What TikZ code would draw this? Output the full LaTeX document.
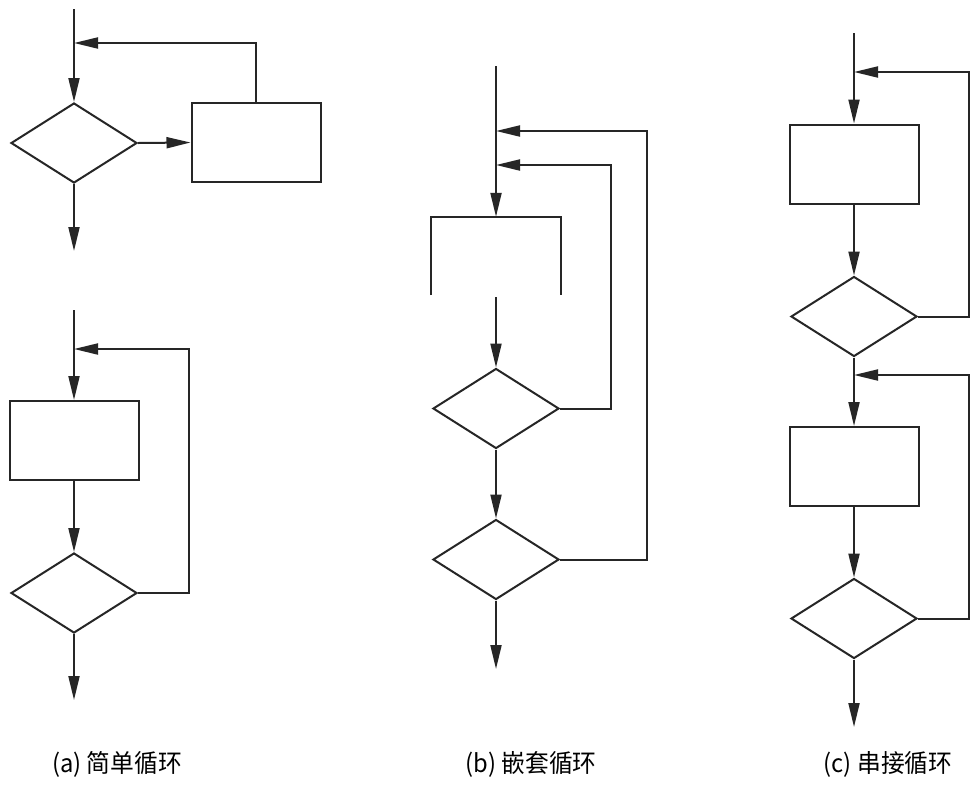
\documentclass[tikz,border=0pt]{standalone}
\usepackage{fontspec}
\newfontfamily\cjk{Noto Sans CJK SC}
\usetikzlibrary{shapes.geometric,arrows.meta}
\begin{document}
\begin{tikzpicture}[x=1pt,y=-1pt,
  ln/.style={line width=2pt,draw=black!85},
  arr/.style={ln,-{Triangle[length=24pt,width=11pt]}},
  dia/.style={diamond,ln,inner sep=0pt,minimum width=126pt,minimum height=80pt},
  box/.style={rectangle,ln,inner sep=0pt,minimum width=129pt,minimum height=79pt},
  lab/.style={font=\cjk\fontsize{25pt}{29pt}\selectfont,inner sep=0pt,xscale=0.95}]
\useasboundingbox[fill=white] (0,0) rectangle (979,785);
% (a) upper
\node[dia] (a1d) at (74,143) {};
\node[box] (a1b) at (256,142.5) {};
\coordinate (a1s) at (74,9);
\coordinate (a1j) at (74,43);
\coordinate (a1e) at (74,251);
\draw[ln] (a1s) -- (a1j);
\draw[arr] (a1j) -- (a1d.north);
\draw[arr] (a1d.east) -- (a1b.west);
\draw[arr] (a1b.north) |- (a1j);
\draw[arr] (a1d.south) -- (a1e);
% (a) lower
\node[box] (a2b) at (74,440.5) {};
\node[dia] (a2d) at (74,593) {};
\coordinate (a2s) at (74,310);
\coordinate (a2j) at (74,349);
\coordinate (a2c) at (189,349);
\coordinate (a2e) at (74,700);
\draw[ln] (a2s) -- (a2j);
\draw[arr] (a2j) -- (a2b.north);
\draw[arr] (a2b.south) -- (a2d.north);
\draw[arr] (a2d.east) -| (a2c) -- (a2j);
\draw[arr] (a2d.south) -- (a2e);
% (b)
\coordinate (bs) at (496,66);
\coordinate (bj1) at (496,131);
\coordinate (bj2) at (496,165);
\coordinate (bc1) at (647,131);
\coordinate (bc2) at (611,165);
\node[minimum width=129pt,minimum height=78pt,inner sep=0pt] (bb) at (496,256) {};
\draw[ln] (bb.south west) -- (bb.north west) -- (bb.north east) -- (bb.south east);
\node[dia] (bd1) at (496,408.5) {};
\node[dia] (bd2) at (496,559.5) {};
\coordinate (be) at (496,669);
\draw[arr] (bs) -- (bb.north);
\draw[arr] (bb.south) ++(0,2) -- (bd1.north);
\draw[arr] (bd1.east) -| (bc2) -- (bj2);
\draw[arr] (bd2.east) -| (bc1) -- (bj1);
\draw[arr] (bd1.south) -- (bd2.north);
\draw[arr] (bd2.south) -- (be);
% (c)
\coordinate (cs) at (854,33);
\coordinate (cj1) at (854,72);
\coordinate (cc1) at (969,72);
\node[box] (cb1) at (854,164) {};
\node[dia] (cd1) at (854,316.5) {};
\coordinate (cj2) at (854,375);
\coordinate (cc2) at (969,375);
\node[box] (cb2) at (854,466.5) {};
\node[dia] (cd2) at (854,618.5) {};
\coordinate (ce) at (854,727);
\draw[ln] (cs) -- (cj1);
\draw[arr] (cj1) -- (cb1.north);
\draw[arr] (cb1.south) -- (cd1.north);
\draw[arr] (cd1.east) -| (cc1) -- (cj1);
\draw[ln] (cd1.south) -- (cj2);
\draw[arr] (cj2) -- (cb2.north);
\draw[arr] (cd2.east) -| (cc2) -- (cj2);
\draw[arr] (cb2.south) -- (cd2.north);
\draw[arr] (cd2.south) -- (ce);
% labels
\node[lab] (la) at (117,764) {(a) 简单循环};
\node[lab] (lb) at (531,764) {(b) 嵌套循环};
\node[lab] (lc) at (888,764) {(c) 串接循环};
\end{tikzpicture}
\end{document}
